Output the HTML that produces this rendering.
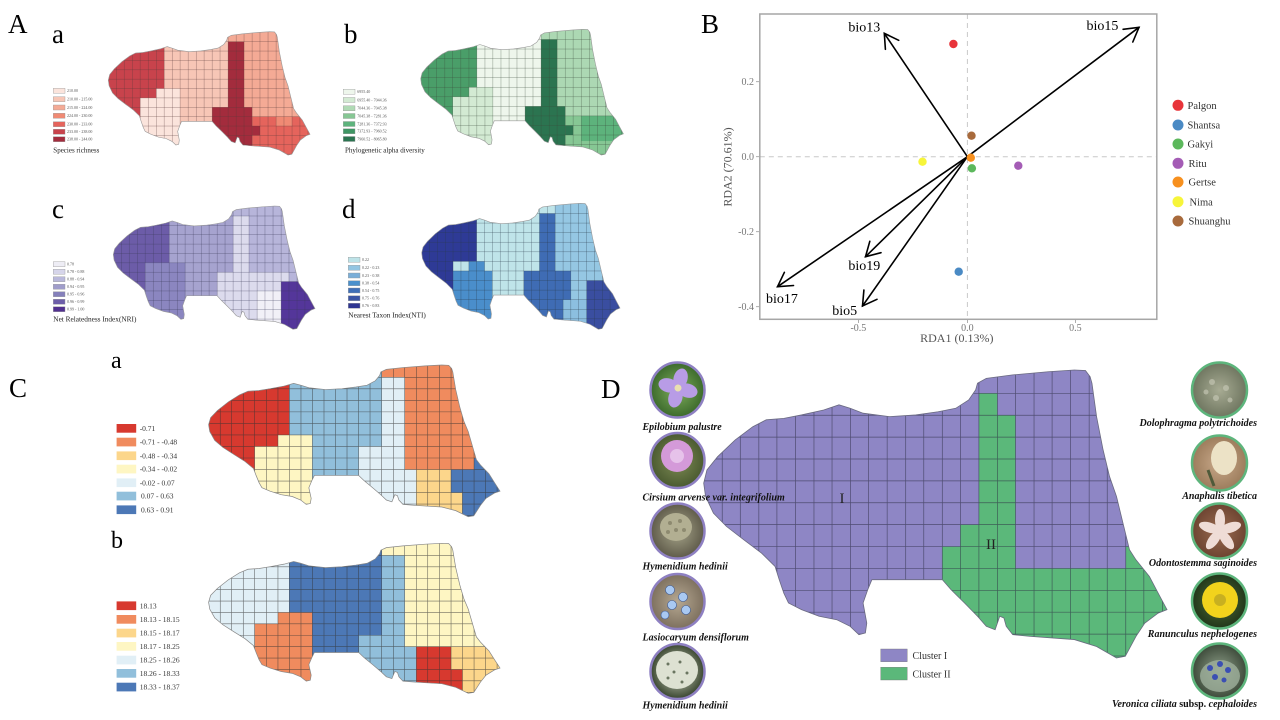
<!DOCTYPE html>
<html><head><meta charset="utf-8"><style>
html,body{margin:0;padding:0;background:#fff;}
svg{display:block;}
</style></head><body>
<svg width="1280" height="720" viewBox="0 0 1280 720" xmlns="http://www.w3.org/2000/svg" font-family="'Liberation Serif', serif">
<defs>
<path id="shape" vector-effect="non-scaling-stroke" d="M591 46 L610 29 L667 17 L743 6 L800 0 L824 2 L834 23 L838 46 L848 162 L862 277 L876 370 L891 439 L905 532 L919 624 L933 659 L962 717 L981 775 L1000 832 L981 844 L952 879 L933 925 L910 994 L891 1000 L848 960 L800 936 L705 925 L667 919 L653 890 L648 861 L639 855 L629 902 L610 890 L591 855 L563 809 L534 763 L515 728 L363 728 L354 763 L344 809 L352 879 L349 913 L335 919 L316 890 L287 867 L249 855 L211 832 L183 809 L173 775 L163 728 L154 682 L125 636 L87 590 L49 543 L21 497 L4 439 L0 393 L7 347 L30 301 L68 243 L106 197 L135 173 L173 168 L211 156 L259 139 L292 121 L316 133 L344 150 L401 162 L458 156 L506 145 L544 133 L572 104 L587 69 Z"/>
<path id="grid" vector-effect="non-scaling-stroke" d="M40 -20V1020M79 -20V1020M119 -20V1020M158 -20V1020M198 -20V1020M238 -20V1020M277 -20V1020M317 -20V1020M356 -20V1020M396 -20V1020M436 -20V1020M475 -20V1020M515 -20V1020M554 -20V1020M594 -20V1020M634 -20V1020M673 -20V1020M713 -20V1020M752 -20V1020M792 -20V1020M832 -20V1020M871 -20V1020M911 -20V1020M950 -20V1020M990 -20V1020M-20 81H1020M-20 157H1020M-20 233H1020M-20 309H1020M-20 385H1020M-20 461H1020M-20 537H1020M-20 613H1020M-20 689H1020M-20 765H1020M-20 841H1020M-20 917H1020M-20 993H1020"/>
<clipPath id="clip"><use href="#shape"/></clipPath>
<radialGradient id="gEpi"><stop offset="0" stop-color="#7fae5c"/><stop offset="1" stop-color="#3c6a2c"/></radialGradient>
<radialGradient id="gCir"><stop offset="0" stop-color="#7f8d55"/><stop offset="1" stop-color="#4a5a30"/></radialGradient>
<radialGradient id="gHym"><stop offset="0" stop-color="#a7a58a"/><stop offset="1" stop-color="#5f5b4a"/></radialGradient>
<radialGradient id="gLas"><stop offset="0" stop-color="#b6a892"/><stop offset="1" stop-color="#7d705e"/></radialGradient>
<radialGradient id="gHy2"><stop offset="0" stop-color="#d9ddcc"/><stop offset="1" stop-color="#38452e"/></radialGradient>
<radialGradient id="gDol"><stop offset="0" stop-color="#a7ab93"/><stop offset="1" stop-color="#6f7660"/></radialGradient>
<radialGradient id="gAna"><stop offset="0" stop-color="#c9a98a"/><stop offset="1" stop-color="#9c7c5c"/></radialGradient>
<radialGradient id="gOdo"><stop offset="0" stop-color="#9a6a50"/><stop offset="1" stop-color="#6d4431"/></radialGradient>
<radialGradient id="gRan"><stop offset="0" stop-color="#4e6e38"/><stop offset="1" stop-color="#22361a"/></radialGradient>
<radialGradient id="gVer"><stop offset="0" stop-color="#8fa08a"/><stop offset="1" stop-color="#3d4a3a"/></radialGradient>
</defs>

<!-- ===== Panel letters ===== -->
<g font-size="27" fill="#000">
<text x="8" y="33">A</text>
<text x="701" y="33">B</text>
<text x="9" y="397">C</text>
<text x="601" y="398">D</text>
</g>
<g font-size="27" fill="#000">
<text x="52" y="43">a</text>
<text x="344" y="43">b</text>
<text x="52" y="218">c</text>
<text x="342" y="218">d</text>
</g>
<g font-size="24" fill="#000">
<text x="111" y="368">a</text>
<text x="111" y="548">b</text>
</g>

<!-- ===== A a: Species richness ===== -->
<g transform="translate(108.3,31.7) scale(0.2017,0.1233)">
 <g clip-path="url(#clip)">
  <rect x="-20" y="-20" width="1040" height="1040" fill="#f7c6b6"/>
  <rect x="-20" y="-20" width="297" height="1040" fill="#c8434c"/>
  <rect x="238" y="461" width="118" height="90" fill="#fbe4dc"/>
  <rect x="158" y="537" width="198" height="500" fill="#fbe4dc"/>
  <rect x="594" y="-20" width="440" height="1040" fill="#f4aa95"/>
  <rect x="713" y="689" width="320" height="400" fill="#e5645c"/>
  <rect x="832" y="689" width="79" height="76" fill="#f08a74"/>
  <rect x="594" y="81" width="79" height="1000" fill="#a32c3d"/>
  <rect x="515" y="613" width="198" height="500" fill="#a32c3d"/>
  <rect x="713" y="765" width="39" height="76" fill="#a32c3d"/>
  <use href="#grid" fill="none" stroke="#5a3a3a" stroke-opacity="0.55" stroke-width="0.5"/>
 </g>
 <use href="#shape" fill="none" stroke="#999" stroke-width="0.6"/>
</g>
<g stroke="#999" stroke-width="0.4">
<rect x="53.3" y="88.3" width="11.7" height="5" fill="#fbe4dc"/>
<rect x="53.3" y="96.7" width="11.7" height="5" fill="#f7c6b6"/>
<rect x="53.3" y="105" width="11.7" height="5" fill="#f4aa95"/>
<rect x="53.3" y="113.3" width="11.7" height="5" fill="#f08a74"/>
<rect x="53.3" y="121.7" width="11.7" height="5" fill="#e5645c"/>
<rect x="53.3" y="129.3" width="11.7" height="5" fill="#c8434c"/>
<rect x="53.3" y="136.7" width="11.7" height="5" fill="#a32c3d"/>
</g>
<g font-size="4" fill="#555">
<text x="67" y="92.2">210.00</text>
<text x="67" y="100.6">210.00 - 215.00</text>
<text x="67" y="108.9">215.00 - 224.00</text>
<text x="67" y="117.2">224.00 - 230.00</text>
<text x="67" y="125.6">230.00 - 233.00</text>
<text x="67" y="133.2">233.00 - 238.00</text>
<text x="67" y="140.6">238.00 - 244.00</text>
</g>
<text x="53.3" y="152.3" font-size="7" fill="#222">Species richness</text>

<!-- ===== A b: PD ===== -->
<g transform="translate(420.7,29.3) scale(0.2027,0.1257)">
 <g clip-path="url(#clip)">
  <rect x="-20" y="-20" width="1040" height="1040" fill="#eef6ec"/>
  <rect x="-20" y="-20" width="297" height="1040" fill="#4a9e69"/>
  <rect x="238" y="461" width="118" height="90" fill="#d3ead3"/>
  <rect x="158" y="537" width="198" height="500" fill="#d3ead3"/>
  <rect x="594" y="-20" width="440" height="1040" fill="#acd8b3"/>
  <rect x="713" y="689" width="320" height="400" fill="#86c794"/>
  <rect x="792" y="689" width="240" height="200" fill="#5db37c"/>
  <rect x="594" y="81" width="79" height="1000" fill="#2b7450"/>
  <rect x="515" y="613" width="198" height="500" fill="#2b7450"/>
  <rect x="713" y="765" width="39" height="76" fill="#2b7450"/>
  <use href="#grid" fill="none" stroke="#3a4a3a" stroke-opacity="0.55" stroke-width="0.5"/>
 </g>
 <use href="#shape" fill="none" stroke="#999" stroke-width="0.6"/>
</g>
<g stroke="#999" stroke-width="0.4">
<rect x="343.3" y="89.2" width="11.7" height="5" fill="#eef6ec"/>
<rect x="343.3" y="97.5" width="11.7" height="5" fill="#d3ead3"/>
<rect x="343.3" y="105.8" width="11.7" height="5" fill="#b0dab5"/>
<rect x="343.3" y="113.5" width="11.7" height="5" fill="#86c794"/>
<rect x="343.3" y="121.5" width="11.7" height="5" fill="#5db37c"/>
<rect x="343.3" y="128.8" width="11.7" height="5" fill="#3f9664"/>
<rect x="343.3" y="136.5" width="11.7" height="5" fill="#2b7450"/>
</g>
<g font-size="4" fill="#555">
<text x="357.3" y="93.1">6955.40</text>
<text x="357.3" y="101.4">6955.40 - 7044.36</text>
<text x="357.3" y="109.7">7044.36 - 7045.38</text>
<text x="357.3" y="117.4">7045.38 - 7281.36</text>
<text x="357.3" y="125.4">7281.36 - 7372.93</text>
<text x="357.3" y="132.7">7372.93 - 7960.52</text>
<text x="357.3" y="140.4">7960.52 - 8065.80</text>
</g>
<text x="345" y="152.5" font-size="7" fill="#222">Phylogenetic alpha diversity</text>

<!-- ===== A c: NRI ===== -->
<g transform="translate(113.3,206) scale(0.2017,0.1233)">
 <g clip-path="url(#clip)">
  <rect x="-20" y="-20" width="1040" height="1040" fill="#a6a3cf"/>
  <rect x="-20" y="-20" width="297" height="481" fill="#6c5ca8"/>
  <rect x="-20" y="-20" width="178" height="1040" fill="#6c5ca8"/>
  <rect x="158" y="461" width="198" height="600" fill="#8b86c0"/>
  <rect x="594" y="-20" width="440" height="1040" fill="#b7b5da"/>
  <rect x="594" y="81" width="79" height="1000" fill="#dcdbed"/>
  <rect x="515" y="537" width="356" height="500" fill="#dcdbed"/>
  <rect x="713" y="689" width="158" height="400" fill="#f1f0f7"/>
  <rect x="832" y="613" width="200" height="400" fill="#54369a"/>
  <use href="#grid" fill="none" stroke="#3a3a5a" stroke-opacity="0.55" stroke-width="0.5"/>
 </g>
 <use href="#shape" fill="none" stroke="#999" stroke-width="0.6"/>
</g>
<g stroke="#999" stroke-width="0.4">
<rect x="53.3" y="261.7" width="11.7" height="5" fill="#eeedf5"/>
<rect x="53.3" y="269.3" width="11.7" height="5" fill="#d6d5ea"/>
<rect x="53.3" y="276.7" width="11.7" height="5" fill="#b9b8db"/>
<rect x="53.3" y="284.3" width="11.7" height="5" fill="#a09dcb"/>
<rect x="53.3" y="291.7" width="11.7" height="5" fill="#8580bb"/>
<rect x="53.3" y="299.3" width="11.7" height="5" fill="#6d5ea9"/>
<rect x="53.3" y="306.7" width="11.7" height="5" fill="#51308f"/>
</g>
<g font-size="4" fill="#555">
<text x="67" y="265.6">0.78</text>
<text x="67" y="273.2">0.78 - 0.88</text>
<text x="67" y="280.6">0.88 - 0.94</text>
<text x="67" y="288.2">0.94 - 0.95</text>
<text x="67" y="295.6">0.95 - 0.96</text>
<text x="67" y="303.2">0.96 - 0.99</text>
<text x="67" y="310.6">0.99 - 1.00</text>
</g>
<text x="53.3" y="321.5" font-size="7.3" fill="#222">Net Relatedness Index(NRI)</text>

<!-- ===== A d: NTI ===== -->
<g transform="translate(421.7,203.3) scale(0.1983,0.126)">
 <g clip-path="url(#clip)">
  <rect x="-20" y="-20" width="1040" height="1040" fill="#bfe4e9"/>
  <rect x="-20" y="-20" width="297" height="481" fill="#2e3a96"/>
  <rect x="-20" y="-20" width="178" height="1040" fill="#2e3a96"/>
  <rect x="238" y="461" width="79" height="90" fill="#4a8ecb"/>
  <rect x="158" y="537" width="198" height="500" fill="#4a8ecb"/>
  <rect x="673" y="-20" width="360" height="1040" fill="#95c7e3"/>
  <rect x="594" y="81" width="79" height="1000" fill="#3f6cb4"/>
  <rect x="515" y="537" width="237" height="500" fill="#3f6cb4"/>
  <rect x="713" y="765" width="119" height="300" fill="#8cbfe0"/>
  <rect x="832" y="613" width="200" height="400" fill="#3a4ea0"/>
  <use href="#grid" fill="none" stroke="#2a3a4a" stroke-opacity="0.55" stroke-width="0.5"/>
 </g>
 <use href="#shape" fill="none" stroke="#999" stroke-width="0.6"/>
</g>
<g stroke="#999" stroke-width="0.4">
<rect x="348.3" y="257.3" width="11.7" height="5" fill="#bde3e8"/>
<rect x="348.3" y="265.3" width="11.7" height="5" fill="#93c5e2"/>
<rect x="348.3" y="273" width="11.7" height="5" fill="#7aaed8"/>
<rect x="348.3" y="280.7" width="11.7" height="5" fill="#4a90cc"/>
<rect x="348.3" y="288" width="11.7" height="5" fill="#3f6fb7"/>
<rect x="348.3" y="295.7" width="11.7" height="5" fill="#3b55a4"/>
<rect x="348.3" y="303.3" width="11.7" height="5" fill="#2e3591"/>
</g>
<g font-size="4" fill="#555">
<text x="362" y="261.2">0.22</text>
<text x="362" y="269.2">0.22 - 0.23</text>
<text x="362" y="276.9">0.23 - 0.38</text>
<text x="362" y="284.6">0.38 - 0.54</text>
<text x="362" y="291.9">0.54 - 0.75</text>
<text x="362" y="299.6">0.75 - 0.76</text>
<text x="362" y="307.2">0.76 - 0.83</text>
</g>
<text x="348.3" y="317.5" font-size="7.3" fill="#222">Nearest Taxon Index(NTI)</text>

<!-- ===== Panel B: RDA ===== -->
<g>
 <line x1="967.4" y1="14" x2="967.4" y2="319.3" stroke="#c8c8c8" stroke-width="1" stroke-dasharray="5,4"/>
 <line x1="759.8" y1="156.7" x2="1156.8" y2="156.7" stroke="#c8c8c8" stroke-width="1" stroke-dasharray="5,4"/>
 <rect x="759.8" y="14" width="397" height="305.3" fill="none" stroke="#a6a6a6" stroke-width="1.5"/>
 <g stroke="#999" stroke-width="0.8">
  <line x1="858.4" y1="320" x2="858.4" y2="323"/>
  <line x1="967.4" y1="320" x2="967.4" y2="323"/>
  <line x1="1075.4" y1="320" x2="1075.4" y2="323"/>
  <line x1="756" y1="81.7" x2="759" y2="81.7"/>
  <line x1="756" y1="156.7" x2="759" y2="156.7"/>
  <line x1="756" y1="231.7" x2="759" y2="231.7"/>
  <line x1="756" y1="306.7" x2="759" y2="306.7"/>
 </g>
 <g font-size="10" fill="#777" text-anchor="middle">
  <text x="858.4" y="331">-0.5</text>
  <text x="967.4" y="331">0.0</text>
  <text x="1075.4" y="331">0.5</text>
 </g>
 <g font-size="10" fill="#777" text-anchor="end">
  <text x="754" y="85">0.2</text>
  <text x="754" y="160">0.0</text>
  <text x="754" y="235">-0.2</text>
  <text x="754" y="310">-0.4</text>
 </g>
 <text x="956.8" y="342" font-size="12" fill="#555" text-anchor="middle">RDA1 (0.13%)</text>
 <text transform="translate(731.5,167) rotate(-90)" font-size="12" fill="#555" text-anchor="middle">RDA2 (70.61%)</text>

 <g stroke="#000" stroke-width="1.6" fill="none" stroke-linecap="round">
  <line x1="967.4" y1="156.7" x2="884.3" y2="33.3"/>
  <polyline points="885.4,49.3 884.3,33.3 898.7,40.3"/>
  <line x1="967.4" y1="156.7" x2="1139" y2="27.3"/>
  <polyline points="1123.1,29.3 1139,27.3 1132.8,42"/>
  <line x1="967.4" y1="156.7" x2="777.5" y2="286.7"/>
  <polyline points="793.5,285.5 777.5,286.7 784.4,272.3"/>
  <line x1="967.4" y1="156.7" x2="865.5" y2="256.7"/>
  <polyline points="881,252.7 865.5,256.7 869.8,241.3"/>
  <line x1="967.4" y1="156.7" x2="862.5" y2="306"/>
  <polyline points="877,299.3 862.5,306 863.9,290.1"/>
 </g>
 <g font-size="14" fill="#000" text-anchor="middle">
  <text x="864.3" y="31.5">bio13</text>
  <text x="1102.5" y="30">bio15</text>
  <text x="782" y="303">bio17</text>
  <text x="864.3" y="270">bio19</text>
  <text x="844.7" y="315">bio5</text>
 </g>
 <circle cx="953.4" cy="44" r="4.2" fill="#e8343a"/>
 <circle cx="971.5" cy="135.7" r="4.2" fill="#a86a3c"/>
 <circle cx="970.8" cy="157.7" r="4.2" fill="#f7901e"/>
 <circle cx="971.9" cy="168.3" r="4.2" fill="#5cb85c"/>
 <circle cx="922.5" cy="161.7" r="4.2" fill="#f7f53a"/>
 <circle cx="1018.3" cy="165.7" r="4.2" fill="#a45cb5"/>
 <circle cx="958.7" cy="271.7" r="4.2" fill="#4a8ac4"/>

 <circle cx="1178" cy="105.3" r="5.5" fill="#e8343a"/>
 <circle cx="1178" cy="125" r="5.5" fill="#4a8ac4"/>
 <circle cx="1178" cy="144" r="5.5" fill="#5cb85c"/>
 <circle cx="1178" cy="163.3" r="5.5" fill="#a45cb5"/>
 <circle cx="1178" cy="182" r="5.5" fill="#f7901e"/>
 <circle cx="1178" cy="201.7" r="5.5" fill="#f7f53a"/>
 <circle cx="1178" cy="221" r="5.5" fill="#a86a3c"/>
 <g font-size="10.5" fill="#333">
  <text x="1187.5" y="109">Palgon</text>
  <text x="1187.5" y="128.7">Shantsa</text>
  <text x="1187.5" y="147.7">Gakyi</text>
  <text x="1188.5" y="167">Ritu</text>
  <text x="1188.5" y="185.7">Gertse</text>
  <text x="1189.5" y="205.4">Nima</text>
  <text x="1188.5" y="224.7">Shuanghu</text>
 </g>
</g>

<!-- ===== C a ===== -->
<g transform="translate(208.6,365) scale(0.2914,0.1517)">
 <g clip-path="url(#clip)">
  <rect x="-20" y="-20" width="1040" height="1040" fill="#91bfdb"/>
  <rect x="-20" y="-20" width="297" height="557" fill="#d7392f"/>
  <rect x="-20" y="-20" width="178" height="1040" fill="#d7392f"/>
  <rect x="238" y="461" width="118" height="90" fill="#fef6c3"/>
  <rect x="158" y="537" width="198" height="500" fill="#fef6c3"/>
  <rect x="594" y="-20" width="440" height="101" fill="#f08b5e"/>
  <rect x="673" y="-20" width="360" height="709" fill="#f08b5e"/>
  <rect x="594" y="81" width="79" height="1000" fill="#e1eff6"/>
  <rect x="515" y="537" width="158" height="500" fill="#e1eff6"/>
  <rect x="673" y="689" width="40" height="400" fill="#e1eff6"/>
  <rect x="713" y="689" width="119" height="400" fill="#fcd68b"/>
  <rect x="832" y="841" width="39" height="200" fill="#fcd68b"/>
  <rect x="832" y="689" width="200" height="152" fill="#4c78b6"/>
  <rect x="871" y="689" width="160" height="400" fill="#4c78b6"/>
  <rect x="911" y="613" width="120" height="80" fill="#4c78b6"/>
  <use href="#grid" fill="none" stroke="#333" stroke-opacity="0.7" stroke-width="0.6"/>
 </g>
 <use href="#shape" fill="none" stroke="#888" stroke-width="0.7"/>
</g>
<g>
<rect x="116.6" y="424" width="19.6" height="8.7" fill="#d7392f"/>
<rect x="116.6" y="437.7" width="19.6" height="8.7" fill="#f08b5e"/>
<rect x="116.6" y="451.4" width="19.6" height="8.7" fill="#fcd68b"/>
<rect x="116.6" y="464.7" width="19.6" height="8.7" fill="#fef6c3"/>
<rect x="116.6" y="478.4" width="19.6" height="8.7" fill="#e1eff6"/>
<rect x="116.6" y="491.7" width="19.6" height="8.7" fill="#91bfdb"/>
<rect x="116.6" y="505.4" width="19.6" height="8.7" fill="#4c78b6"/>
</g>
<g font-size="7.5" fill="#333">
<text x="139.7" y="431">-0.71</text>
<text x="139.7" y="444.7">-0.71 - -0.48</text>
<text x="139.7" y="458.4">-0.48 - -0.34</text>
<text x="139.7" y="471.7">-0.34 - -0.02</text>
<text x="139.7" y="485.4">-0.02 - 0.07</text>
<text x="141" y="498.7">0.07 - 0.63</text>
<text x="141" y="512.4">0.63 - 0.91</text>
</g>

<!-- ===== C b ===== -->
<g transform="translate(208.6,543.3) scale(0.2914,0.150)">
 <g clip-path="url(#clip)">
  <rect x="-20" y="-20" width="1040" height="1040" fill="#91bfdb"/>
  <rect x="-20" y="-20" width="297" height="557" fill="#e1eff6"/>
  <rect x="-20" y="-20" width="178" height="1040" fill="#e1eff6"/>
  <rect x="277" y="-20" width="317" height="633" fill="#4c78b6"/>
  <rect x="356" y="613" width="159" height="500" fill="#4c78b6"/>
  <rect x="238" y="461" width="118" height="90" fill="#f08b5e"/>
  <rect x="158" y="537" width="198" height="500" fill="#f08b5e"/>
  <rect x="673" y="-20" width="360" height="709" fill="#fef6c3"/>
  <rect x="594" y="-20" width="79" height="101" fill="#fef6c3"/>
  <rect x="832" y="689" width="200" height="400" fill="#fcd68b"/>
  <rect x="713" y="689" width="119" height="400" fill="#d7392f"/>
  <rect x="832" y="841" width="39" height="200" fill="#d7392f"/>
  <use href="#grid" fill="none" stroke="#333" stroke-opacity="0.7" stroke-width="0.6"/>
 </g>
 <use href="#shape" fill="none" stroke="#888" stroke-width="0.7"/>
</g>
<g>
<rect x="116.6" y="601.4" width="19.6" height="8.7" fill="#d7392f"/>
<rect x="116.6" y="615" width="19.6" height="8.7" fill="#f08b5e"/>
<rect x="116.6" y="628.7" width="19.6" height="8.7" fill="#fcd68b"/>
<rect x="116.6" y="642" width="19.6" height="8.7" fill="#fef6c3"/>
<rect x="116.6" y="655.7" width="19.6" height="8.7" fill="#e1eff6"/>
<rect x="116.6" y="669" width="19.6" height="8.7" fill="#91bfdb"/>
<rect x="116.6" y="682.7" width="19.6" height="8.7" fill="#4c78b6"/>
</g>
<g font-size="7.5" fill="#333">
<text x="139.7" y="608.4">18.13</text>
<text x="139.7" y="622">18.13 - 18.15</text>
<text x="139.7" y="635.7">18.15 - 18.17</text>
<text x="139.7" y="649">18.17 - 18.25</text>
<text x="139.7" y="662.7">18.25 - 18.26</text>
<text x="139.7" y="676">18.26 - 18.33</text>
<text x="139.7" y="689.7">18.33 - 18.37</text>
</g>

<!-- ===== D map ===== -->
<g transform="translate(703.7,370) scale(0.4633,0.288)">
 <g clip-path="url(#clip)">
  <rect x="-20" y="-20" width="1040" height="1040" fill="#8e86c5"/>
  <rect x="594" y="81" width="40" height="80" fill="#5bb87a"/>
  <rect x="594" y="157" width="79" height="900" fill="#5bb87a"/>
  <rect x="554" y="537" width="119" height="500" fill="#5bb87a"/>
  <rect x="515" y="613" width="158" height="500" fill="#5bb87a"/>
  <rect x="673" y="689" width="400" height="400" fill="#5bb87a"/>
  <rect x="911" y="613" width="120" height="80" fill="#5bb87a"/>
  <use href="#grid" fill="none" stroke="#2c2c44" stroke-opacity="0.65" stroke-width="0.7"/>
 </g>
 <use href="#shape" fill="none" stroke="#6a6a80" stroke-width="0.8"/>
</g>
<text x="842" y="503" font-size="15" fill="#222" text-anchor="middle">I</text>
<text x="991" y="549" font-size="15" fill="#222" text-anchor="middle">II</text>
<rect x="880.7" y="649" width="26.5" height="12.7" fill="#8e86c5" stroke="#777" stroke-width="0.4"/>
<rect x="880.7" y="667.3" width="26.5" height="12.7" fill="#5bb87a" stroke="#777" stroke-width="0.4"/>
<text x="912.5" y="659.2" font-size="10" fill="#333">Cluster I</text>
<text x="912.5" y="677.5" font-size="10" fill="#333">Cluster II</text>

<!-- Left flowers -->
<g stroke="#8e80c2" stroke-width="2.5">
 <ellipse cx="677.5" cy="390" rx="27" ry="27.5" fill="url(#gEpi)"/>
 <ellipse cx="677.5" cy="460.5" rx="27" ry="27.5" fill="url(#gCir)"/>
 <ellipse cx="677.5" cy="531" rx="27" ry="27.5" fill="url(#gHym)"/>
 <ellipse cx="677.5" cy="601.5" rx="27" ry="27.5" fill="url(#gLas)"/>
 <ellipse cx="677.5" cy="671.5" rx="27" ry="27.5" fill="url(#gHy2)"/>
</g>
<g transform="translate(678,388) rotate(15)" fill="#b89ce6">
 <ellipse cx="0" cy="-10" rx="7" ry="10"/>
 <ellipse cx="10" cy="0" rx="10" ry="7"/>
 <ellipse cx="0" cy="10" rx="7" ry="10"/>
 <ellipse cx="-10" cy="0" rx="10" ry="7"/>
 <circle r="3.5" fill="#e9e0b0"/>
</g>
<circle cx="677" cy="456" r="16" fill="#d49ad9"/>
<circle cx="677" cy="456" r="7" fill="#e6c2ea"/>
<ellipse cx="676" cy="527" rx="16" ry="14" fill="#b2af92"/>
<g fill="#8d8a70"><circle cx="670" cy="523" r="2"/><circle cx="680" cy="521" r="2"/><circle cx="676" cy="530" r="2"/><circle cx="684" cy="530" r="2"/><circle cx="668" cy="532" r="2"/></g>
<g fill="#a9c9f2" stroke="#3b5a98" stroke-width="0.6">
 <circle cx="670" cy="590" r="4.5"/><circle cx="683" cy="597" r="4.5"/><circle cx="672" cy="605" r="4.5"/><circle cx="686" cy="610" r="4.5"/><circle cx="665" cy="615" r="4"/>
</g>
<ellipse cx="677" cy="670" rx="21" ry="19" fill="#dde1d2"/>
<g fill="#6a7560"><circle cx="668" cy="664" r="1.5"/><circle cx="680" cy="662" r="1.5"/><circle cx="674" cy="672" r="1.5"/><circle cx="687" cy="673" r="1.5"/><circle cx="668" cy="678" r="1.5"/><circle cx="682" cy="682" r="1.5"/></g>

<!-- Right flowers -->
<g stroke="#5db57c" stroke-width="2.5">
 <ellipse cx="1219.5" cy="390" rx="27.5" ry="27.5" fill="url(#gDol)"/>
 <ellipse cx="1219.5" cy="463" rx="27.5" ry="27.5" fill="url(#gAna)"/>
 <ellipse cx="1219.5" cy="531" rx="27.5" ry="27.5" fill="url(#gOdo)"/>
 <ellipse cx="1219.5" cy="601" rx="27.5" ry="27.5" fill="url(#gRan)"/>
 <ellipse cx="1219.5" cy="671" rx="27.5" ry="27.5" fill="url(#gVer)"/>
</g>
<g fill="#c3c5b2" opacity="0.7"><circle cx="1212" cy="382" r="3"/><circle cx="1226" cy="388" r="3"/><circle cx="1216" cy="398" r="3"/><circle cx="1230" cy="400" r="2.5"/><circle cx="1206" cy="392" r="2.5"/></g>
<ellipse cx="1224" cy="458" rx="13" ry="17" fill="#ece2c6"/>
<line x1="1208" y1="470" x2="1214" y2="486" stroke="#4f5a3a" stroke-width="3"/>
<g transform="translate(1220,531)" fill="#efdcd6">
 <ellipse cx="0" cy="-11" rx="5" ry="11"/>
 <ellipse cx="0" cy="-11" rx="5" ry="11" transform="rotate(72)"/>
 <ellipse cx="0" cy="-11" rx="5" ry="11" transform="rotate(144)"/>
 <ellipse cx="0" cy="-11" rx="5" ry="11" transform="rotate(216)"/>
 <ellipse cx="0" cy="-11" rx="5" ry="11" transform="rotate(288)"/>
</g>
<circle cx="1220" cy="600" r="18" fill="#f2d31c"/>
<circle cx="1220" cy="600" r="6" fill="#c8b020"/>
<ellipse cx="1220" cy="676" rx="20" ry="16" fill="#9fb09c" opacity="0.8"/>
<g fill="#3b4fb3"><circle cx="1210" cy="668" r="3"/><circle cx="1220" cy="664" r="3"/><circle cx="1228" cy="670" r="3"/><circle cx="1215" cy="677" r="3"/><circle cx="1224" cy="680" r="2.5"/></g>

<!-- Flower labels -->
<g font-size="10" font-weight="bold" font-style="italic" fill="#111">
 <text x="642.5" y="430">Epilobium palustre</text>
 <text x="642.5" y="500.5">Cirsium arvense <tspan font-style="italic">var.</tspan> integrifolium</text>
 <text x="642.5" y="569.5">Hymenidium hedinii</text>
 <text x="642.5" y="640.5">Lasiocaryum densiflorum</text>
 <text x="642.5" y="708.5">Hymenidium hedinii</text>
</g>
<g font-size="10" font-weight="bold" font-style="italic" fill="#111" text-anchor="end">
 <text x="1257" y="426">Dolophragma polytrichoides</text>
 <text x="1257" y="499">Anaphalis tibetica</text>
 <text x="1257" y="566">Odontostemma saginoides</text>
 <text x="1257" y="637">Ranunculus nephelogenes</text>
 <text x="1257" y="707">Veronica ciliata <tspan font-style="normal">subsp.</tspan> cephaloides</text>
</g>
</svg>
</body></html>
